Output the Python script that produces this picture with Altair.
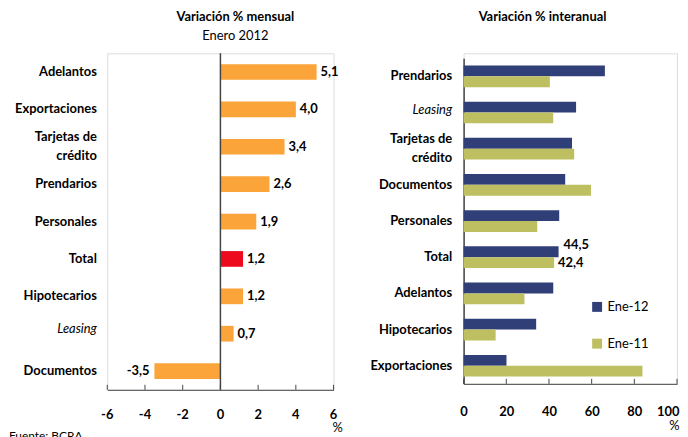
import altair as alt
import pandas as pd

# ---- data ----
left_cats = ["Adelantos", "Exportaciones", "Tarjetas de crédito", "Prendarios", "Personales",
             "Total", "Hipotecarios", "Leasing", "Documentos"]
left_vals = [5.1, 4.0, 3.4, 2.6, 1.9, 1.2, 1.2, 0.7, -3.5]
left_ticks = [-6, -4, -2, 0, 2, 4, 6]

right_cats = ["Prendarios", "Leasing", "Tarjetas de crédito", "Documentos", "Personales",
              "Total", "Adelantos", "Hipotecarios", "Exportaciones"]
ene12 = [66.2, 52.7, 50.8, 47.6, 44.8, 44.5, 42.0, 34.0, 20.1]
ene11 = [40.4, 42.0, 51.8, 59.7, 34.5, 42.4, 28.5, 15.0, 83.8]
series = ["Ene-12", "Ene-11"]
right_ticks = [0, 20, 40, 60, 80, 100]

ORANGE = "#FBA43A"
RED = "#EE0A1E"
NAVY = "#313F78"
OLIVE = "#BDBF60"
AXIS = "#444444"
FONT = "Lato"

def fmt(v):
    return f"{v:.1f}".replace(".", ",")

left_df = pd.DataFrame({
    "cat": left_cats,
    "val": left_vals,
    "label": [fmt(v) for v in left_vals],
    "col": [RED if c == "Total" else ORANGE for c in left_cats],
})

rows = []
for c, a, b in zip(right_cats, ene12, ene11):
    rows.append({"cat": c, "serie": series[0], "val": a, "label": fmt(a)})
    rows.append({"cat": c, "serie": series[1], "val": b, "label": fmt(b)})
right_df = pd.DataFrame(rows)

label_expr = "datum.label == 'Tarjetas de crédito' ? ['Tarjetas de', 'crédito'] : datum.label"
italic_cond = {"condition": {"test": "datum.label == 'Leasing'", "value": "italic"}, "value": "normal"}
weight_cond = {"condition": {"test": "datum.label == 'Leasing'", "value": "normal"}, "value": "bold"}
def offset_cond(leasing_off):
    return {"condition": [
        {"test": "datum.label == 'Tarjetas de crédito'", "value": -9.5},
        {"test": "datum.label == 'Leasing'", "value": leasing_off}],
        "value": 0}

LW, LH = 228, 339
RW, RH = 215, 333
RTOP = 5  # right plot starts a little lower than the left one

# ---- left chart ----
ly = alt.Y("cat:N", sort=left_cats, title=None,
           scale=alt.Scale(paddingInner=0.58, paddingOuter=0.29),
           axis=alt.Axis(domain=False, ticks=False, labelExpr=label_expr,
                         labelFontStyle=italic_cond, labelFontWeight=weight_cond,
                         labelOffset=offset_cond(-5),
                         labelFont=FONT, labelFontSize=13, labelColor="black",
                         labelPadding=11, labelLineHeight=19, labelLimit=200))
lx = alt.X("val:Q", title="%", scale=alt.Scale(domain=[-6, 6], nice=False),
           axis=alt.Axis(values=left_ticks, ticks=False, grid=False, domainColor=AXIS,
                         labels=False,
                         titleFont=FONT, titleFontSize=13, titleFontWeight="normal",
                         titleX=LW + 3.5, titleY=38, titleAlign="center",
                         titleBaseline="middle", titleColor="black"))

lbase = alt.Chart(left_df)
lbars = lbase.mark_bar().encode(x=lx, y=ly, color=alt.Color("col:N", scale=None))
ltext_pos = lbase.transform_filter("datum.val >= 0").mark_text(
    align="left", dx=4, font=FONT, fontSize=13, fontWeight="bold", color="black"
).encode(x="val:Q", y=alt.Y("cat:N", sort=left_cats), text="label:N")
ltext_neg = lbase.transform_filter("datum.val < 0").mark_text(
    align="right", dx=-5, font=FONT, fontSize=13, fontWeight="bold", color="black"
).encode(x="val:Q", y=alt.Y("cat:N", sort=left_cats), text="label:N")
zero = alt.Chart(pd.DataFrame({"z": [0]})).mark_rule(color=AXIS, strokeWidth=1.5).encode(x="z:Q")
tick_df = pd.DataFrame({"t": left_ticks, "lab": [str(t) for t in left_ticks]})
lticks = alt.Chart(tick_df).mark_rule(color=AXIS).encode(
    x="t:Q", y=alt.value(LH - 5), y2=alt.value(LH))
lticklabels = alt.Chart(tick_df).mark_text(
    align="center", baseline="middle", font=FONT, fontSize=13, fontWeight="bold", color="black"
).encode(x="t:Q", y=alt.value(LH + 25), text="lab:N")
source = alt.Chart(pd.DataFrame({"s": ["Fuente: BCRA"]})).mark_text(
    align="left", baseline="top", font=FONT, fontSize=12, color="black"
).encode(text="s:N", x=alt.value(-99), y=alt.value(LH + 42))

left = alt.layer(lbars, zero, lticks, lticklabels, ltext_pos, ltext_neg, source).properties(
    width=LW, height=LH,
    title=alt.TitleParams("Variación %  mensual", subtitle="Enero 2012",
                          font=FONT, fontSize=13, fontWeight="bold", color="black",
                          subtitleFont=FONT, subtitleFontSize=13, subtitleColor="black",
                          subtitlePadding=6, offset=10, dx=15, anchor="middle"))

# ---- right chart ----
ry = alt.Y("cat:N", sort=right_cats, title=None,
           scale=alt.Scale(paddingInner=0.4, paddingOuter=0.2, range=[RTOP, RH]),
           axis=alt.Axis(domain=True, domainColor=AXIS, domainWidth=1.5, ticks=False,
                         labelExpr=label_expr,
                         labelFontStyle=italic_cond, labelFontWeight=weight_cond,
                         labelOffset=offset_cond(-3),
                         labelFont=FONT, labelFontSize=13, labelColor="black",
                         labelPadding=12, labelLineHeight=19, labelLimit=200))
rx = alt.X("val:Q", title="%", scale=alt.Scale(domain=[0, 100], nice=False),
           axis=alt.Axis(values=right_ticks, ticks=False, grid=False, domainColor=AXIS,
                         labelOverlap=False, labelFlush=False,
                         labelAlign={"condition": {"test": "datum.value == 100", "value": "right"},
                                     "value": "center"},
                         labelOffset={"condition": {"test": "datum.value == 100", "value": 2},
                                      "value": 0},
                         labelFont=FONT, labelFontSize=13, labelFontWeight="bold",
                         labelColor="black", labelPadding=22,
                         titleFont=FONT, titleFontSize=13, titleFontWeight="normal",
                         titleX=RW + 2, titleY=42, titleAlign="right",
                         titleBaseline="middle", titleColor="black"))

rbase = alt.Chart(right_df)
rbars = rbase.mark_bar().encode(
    x=rx, y=ry,
    yOffset=alt.YOffset("serie:N", sort=series),
    color=alt.Color("serie:N", sort=series,
                    scale=alt.Scale(domain=series, range=[NAVY, OLIVE]),
                    legend=alt.Legend(title=None, orient="none", legendX=487, legendY=249,
                                      symbolType="square", symbolSize=100, symbolStrokeWidth=0,
                                      labelFont=FONT, labelFontSize=13, labelColor="black",
                                      labelOffset=4, rowPadding=23, padding=0)))
rt12 = rbase.transform_filter("datum.cat == 'Total' && datum.serie == 'Ene-12'").mark_text(
    align="left", dx=5, dy=-7, font=FONT, fontSize=13, fontWeight="bold", color="black"
).encode(x="val:Q", y=alt.Y("cat:N", sort=right_cats),
         yOffset=alt.YOffset("serie:N", sort=series), text="label:N")
rt11 = rbase.transform_filter("datum.cat == 'Total' && datum.serie == 'Ene-11'").mark_text(
    align="left", dx=4, dy=0, font=FONT, fontSize=13, fontWeight="bold", color="black"
).encode(x="val:Q", y=alt.Y("cat:N", sort=right_cats),
         yOffset=alt.YOffset("serie:N", sort=series), text="label:N")
rticks = alt.Chart(pd.DataFrame({"t": right_ticks})).mark_rule(color=AXIS).encode(
    x="t:Q", y=alt.value(RH - 5), y2=alt.value(RH))

right = alt.layer(rbars, rticks, rt12, rt11).properties(
    width=RW, height=RH,
    title=alt.TitleParams("Variación % interanual",
                          font=FONT, fontSize=13, fontWeight="bold", color="black",
                          offset=30, dx=-28, anchor="middle"))

chart = alt.hconcat(left, right, spacing=26).properties(padding=0).configure_view(
    stroke=None).configure(background="white").configure_axis(labelOverlap=False)

chart.save("out.html", embed_options={"renderer": "svg", "actions": False})
